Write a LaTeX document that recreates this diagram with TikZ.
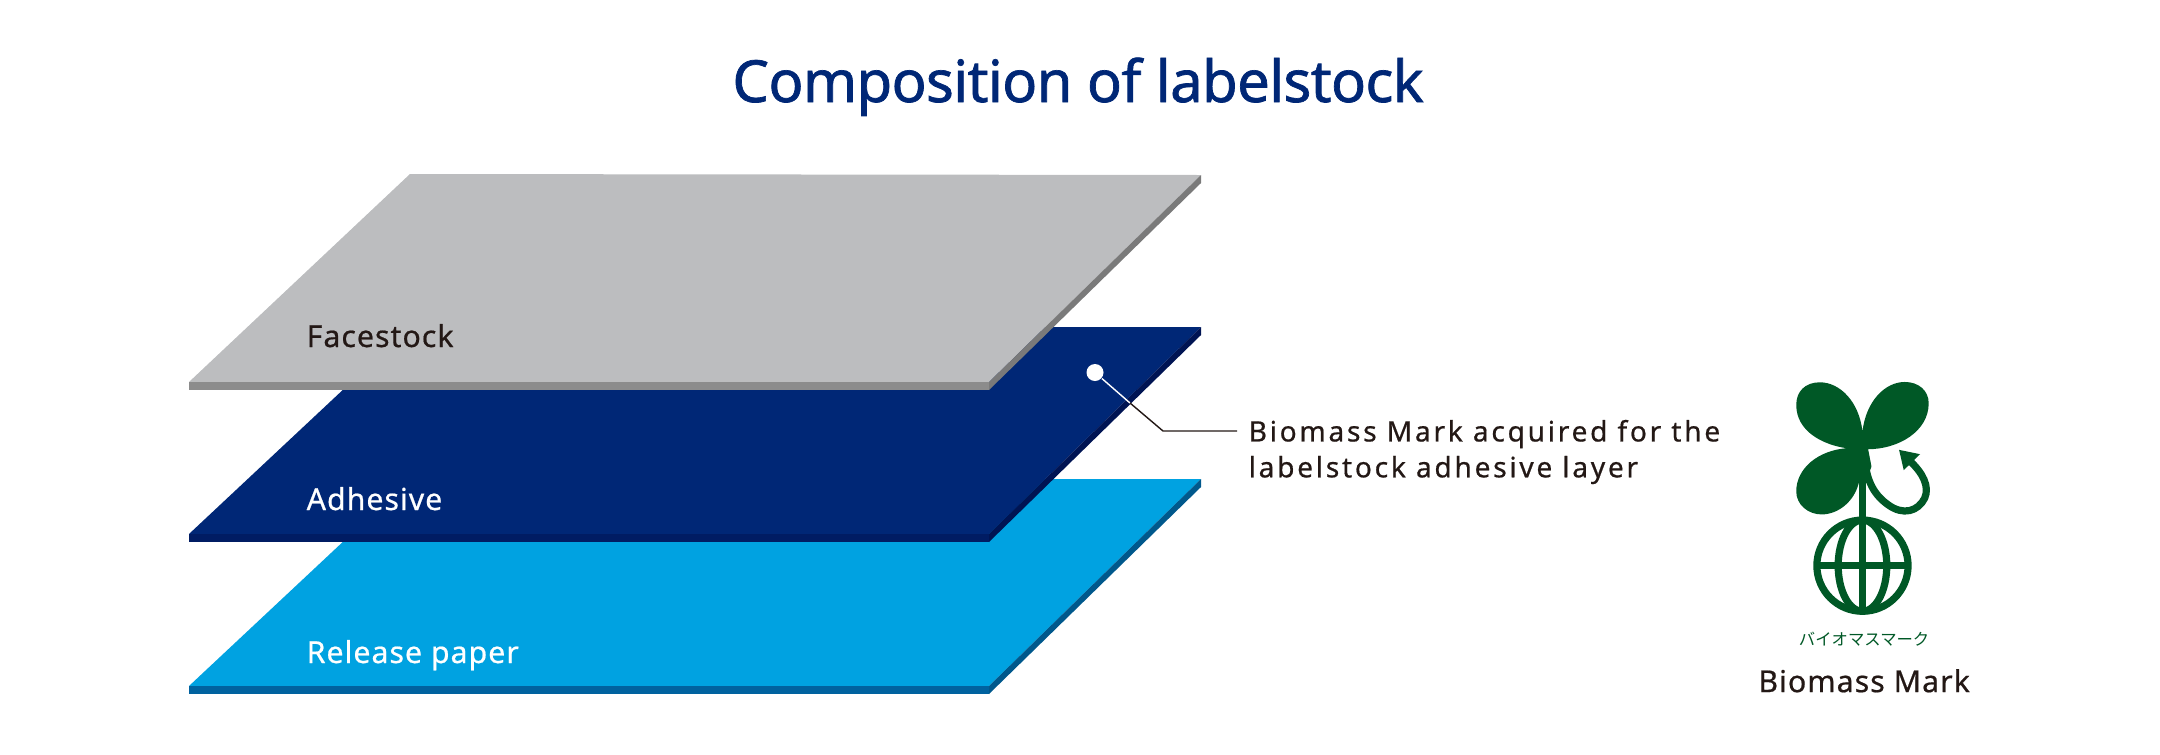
\documentclass[tikz,border=0pt]{standalone}
\usepackage{fontspec}
\setmainfont{Noto Sans}
\newfontfamily\titlefont[FakeBold=1.2, LetterSpace=-1.1]{Noto Sans}
\newfontfamily\layerfont[FakeBold=0.6, LetterSpace=3.4]{Noto Sans}
\newfontfamily\spacedfont[FakeBold=0.6, LetterSpace=9.7]{Noto Sans}
\newfontfamily\logofont[FakeBold=0.6, LetterSpace=3.5]{Noto Sans}
\newfontfamily\kanafont{Noto Sans CJK JP}
\usetikzlibrary{positioning}
\definecolor{labelnavy}{RGB}{0,39,118}
\definecolor{labelnavyside}{RGB}{0,28,99}
\definecolor{labelnavyedge}{RGB}{0,20,83}
\definecolor{labelcyan}{RGB}{0,162,225}
\definecolor{labelcyanside}{RGB}{0,98,159}
\definecolor{labelcyanedge}{RGB}{0,88,140}
\definecolor{labelgray}{RGB}{188,189,191}
\definecolor{labelgrayside}{RGB}{140,140,140}
\definecolor{labelgrayedge}{RGB}{122,122,122}
\definecolor{labelink}{RGB}{35,24,21}
\definecolor{markgreen}{RGB}{0,88,38}
\tikzset{
  titletext/.style={inner sep=0pt, anchor=base, text=labelnavy, font=\fontsize{16.5}{18}\selectfont\titlefont},
  layertext/.style={inner sep=0pt, anchor=base west, font=\fontsize{8.6}{10}\selectfont\layerfont},
  callouttext/.style={inner sep=0pt, anchor=west, align=left, text=labelink, font=\fontsize{8}{10.2}\selectfont\spacedfont},
  markstroke/.style={draw=markgreen, line width=2.05pt}
}
\begin{document}
\begin{tikzpicture}[x=0.01cm, y=-0.01cm]
  \useasboundingbox (0,0) rectangle (2160,754);
  \node[titletext] (title) at (1078,102) {Composition of labelstock};

  % release paper
  \fill[labelcyan] (410,479) -- (1201,479) -- (989,686) -- (189,686) -- cycle;
  \fill[labelcyanside] (189,686) -- (989,686) -- (989,694) -- (189,694) -- cycle;
  \fill[labelcyanedge] (989,686) -- (1201,479) -- (1201,487) -- (989,694) -- cycle;
  % adhesive
  \fill[labelnavy] (410,327) -- (1201,327) -- (989,534) -- (189,534) -- cycle;
  \fill[labelnavyside] (189,534) -- (989,534) -- (989,542) -- (189,542) -- cycle;
  \fill[labelnavyedge] (989,534) -- (1201,327) -- (1201,335) -- (989,542) -- cycle;
  % facestock
  \fill[labelgray] (410,174) -- (1201,175) -- (989,382) -- (189,382) -- cycle;
  \fill[labelgrayside] (189,382) -- (989,382) -- (989,390) -- (189,390) -- cycle;
  \fill[labelgrayedge] (989,382) -- (1201,175) -- (1201,183) -- (989,390) -- cycle;

  \node[layertext, text=labelink] (facestock) at (306,347) {Facestock};
  \node[layertext, text=white] (adhesive) at (306,510) {Adhesive};
  \node[layertext, text=white] (release) at (306,663) {Release paper};

  % callout
  \node[circle, fill=white, inner sep=0pt, minimum size=0.17cm] (dot) at (1095,372.5) {};
  \node[callouttext] (callout) at (1248,452) {Biomass Mark acquired for the\\labelstock adhesive layer};
  \coordinate (cross) at (1130,403);
  \coordinate (bend) at (1163,431);
  \coordinate (leaderend) at (1237,431);
  \draw[white, line width=0.4pt] (dot) -- (cross);
  \draw[labelink, line width=0.4pt] (cross) -- (bend) -- (leaderend);

  % biomass mark
  \begin{scope}[shift={(1740,360)}, x=0.003333cm, y=-0.003333cm]
    \fill[markgreen] (368,215) .. controls (358,125) and (300,67) .. (240,67)
      .. controls (195,67) and (169,95) .. (169,135)
      .. controls (169,215) and (250,255) .. (320,265)
      .. controls (235,272) and (169,325) .. (169,395)
      .. controls (169,435) and (205,464) .. (245,464)
      .. controls (295,464) and (345,425) .. (358,365)
      -- (379,365) -- (395,320) -- (385,268)
      .. controls (475,268) and (567,215) .. (567,130)
      .. controls (567,92) and (537,66) .. (495,66)
      .. controls (435,66) and (378,125) .. (368,215) -- cycle;
    \draw[markstroke] (368,360) -- (368,750);
    \draw[markstroke] (368,618) circle (137);
    \draw[markstroke] (368,618) ellipse (73 and 137);
    \draw[markstroke] (231,618) -- (505,618);
    \draw[markstroke] (374,290) .. controls (378,350) and (395,400) .. (445,435)
      .. controls (490,468) and (535,455) .. (555,415)
      .. controls (570,380) and (550,340) .. (510,303);
    \fill[markgreen] (478,270) -- (541,283) -- (492,331) -- cycle;
    \node[inner sep=0pt, text=markgreen, font=\fontsize{4.65}{6}\selectfont\kanafont] (kana) at (373,840) {バイオマスマーク};
    \node[inner sep=0pt, anchor=base, text=labelink, font=\fontsize{8.6}{10}\selectfont\logofont] (markname) at (373,998) {Biomass Mark};
  \end{scope}
\end{tikzpicture}
\end{document}
